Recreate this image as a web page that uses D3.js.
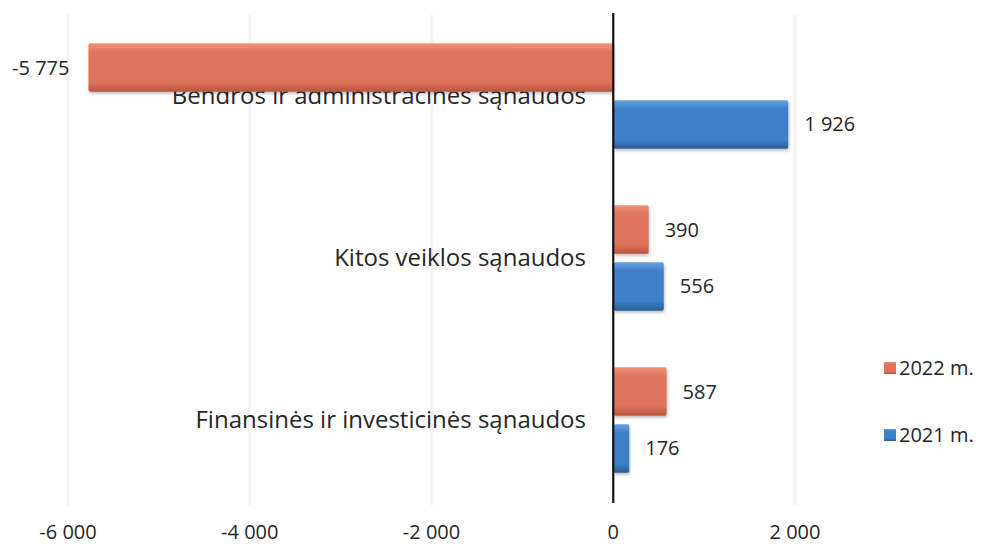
<!DOCTYPE html>
<html lang="lt">
<head>
<meta charset="UTF-8">
<title>Sąnaudos</title>
<script src="https://cdn.jsdelivr.net/npm/d3@7.9.0/dist/d3.min.js"></script>
<style>
    body { margin: 0; background: #fff; }
    svg { display: block; font-family: "Open Sans", Lato, sans-serif; }
    .cat { font-size: 24px; fill: #262626; text-anchor: end; }
    .val { font-size: 20px; fill: #262626; }
    .tick-label { font-size: 20px; fill: #262626; text-anchor: middle; }
    .legend-text { font-size: 20px; fill: #262626; }
</style>
</head>
<body>
<svg id="chart" width="982" height="544"></svg>
<script>
    // --- data ---
    const categories = [
        "Bendros ir administracinės sąnaudos",
        "Kitos veiklos sąnaudos",
        "Finansinės ir investicinės sąnaudos"
    ];
    const seriesNames = ["2022 m.", "2021 m."];
    const values2022 = [-5775, 390, 587];
    const values2021 = [1926, 556, 176];
    const tickValues = [-6000, -4000, -2000, 0, 2000];

    const seriesColors = {
        "2022 m.": ["#f0937b", "#e0735c", "#b9543f"],
        "2021 m.": ["#64a2e0", "#3e80c7", "#285e98"]
    };

    const rows = categories.map((c, i) => ({
        category: c,
        values: [
            { series: "2022 m.", value: values2022[i] },
            { series: "2021 m.", value: values2021[i] }
        ]
    }));

    const locale = d3.formatLocale({ decimal: ",", thousands: " ", grouping: [3], currency: ["", ""], minus: "-" });
    const fmt = locale.format(",d");

    const svg = d3.select("#chart");

    const x = d3.scaleLinear().domain([-6000, 2000]).range([68, 795]);
    const y = d3.scaleBand().domain(categories).range([15, 501]).paddingInner(0.35).paddingOuter(0.175);
    const ySub = d3.scaleBand().domain(seriesNames).range([0, y.bandwidth()]).paddingInner(0.15);

    // gradients for the rounded bar look
    const defs = svg.append("defs");
    seriesNames.forEach((s, i) => {
        const g = defs.append("linearGradient")
            .attr("id", "grad" + i)
            .attr("x1", 0).attr("y1", 0).attr("x2", 0).attr("y2", 1);
        const c = seriesColors[s];
        g.append("stop").attr("offset", "0%").attr("stop-color", c[0]);
        g.append("stop").attr("offset", "18%").attr("stop-color", c[1]);
        g.append("stop").attr("offset", "80%").attr("stop-color", c[1]);
        g.append("stop").attr("offset", "100%").attr("stop-color", c[2]);
    });
    const shadow = defs.append("filter").attr("id", "shadow")
        .attr("x", "-5%").attr("y", "-10%").attr("width", "110%").attr("height", "130%");
    shadow.append("feDropShadow").attr("dx", 1).attr("dy", 2).attr("stdDeviation", 1.5)
        .attr("flood-color", "#000").attr("flood-opacity", 0.25);

    // faint gridlines
    svg.append("g")
        .selectAll("line")
        .data(tickValues.filter(d => d !== 0))
        .join("line")
        .attr("x1", d => x(d)).attr("x2", d => x(d))
        .attr("y1", 15).attr("y2", 505)
        .attr("stroke", "#f4f4f4")
        .attr("stroke-width", 3);

    // category labels (drawn under bars)
    svg.append("g")
        .selectAll("text")
        .data(categories)
        .join("text")
        .attr("class", "cat")
        .attr("x", 586)
        .attr("y", d => y(d) + y.bandwidth() / 2 + 8)
        .text(d => d);

    // bars
    const group = svg.append("g")
        .selectAll("g")
        .data(rows)
        .join("g")
        .attr("transform", d => `translate(0,${y(d.category)})`);

    group.selectAll("rect")
        .data(d => d.values)
        .join("rect")
        .attr("x", d => x(Math.min(0, d.value)))
        .attr("y", d => ySub(d.series))
        .attr("width", d => Math.abs(x(d.value) - x(0)))
        .attr("height", ySub.bandwidth())
        .attr("rx", 2)
        .attr("fill", d => `url(#grad${seriesNames.indexOf(d.series)})`)
        .attr("filter", "url(#shadow)");

    group.selectAll("text")
        .data(d => d.values)
        .join("text")
        .attr("class", "val")
        .attr("x", d => d.value < 0 ? x(d.value) - 19 : x(d.value) + 16)
        .attr("y", d => ySub(d.series) + ySub.bandwidth() / 2 + 7)
        .attr("text-anchor", d => d.value < 0 ? "end" : "start")
        .text(d => fmt(d.value));

    // zero axis line
    svg.append("line")
        .attr("x1", x(0)).attr("x2", x(0))
        .attr("y1", 13).attr("y2", 503)
        .attr("stroke", "#111")
        .attr("stroke-width", 2.2);

    // tick labels
    svg.append("g")
        .selectAll("text")
        .data(tickValues)
        .join("text")
        .attr("class", "tick-label")
        .attr("x", d => x(d))
        .attr("y", 539)
        .text(d => fmt(d));

    // legend
    const legend = svg.append("g")
        .selectAll("g")
        .data(seriesNames)
        .join("g")
        .attr("transform", (d, i) => `translate(884,${362 + i * 67})`);
    legend.append("rect")
        .attr("width", 12).attr("height", 12)
        .attr("fill", (d, i) => `url(#grad${i})`);
    legend.append("text")
        .attr("class", "legend-text")
        .attr("x", 15).attr("y", 13)
        .text(d => d);
</script>
</body>
</html>
